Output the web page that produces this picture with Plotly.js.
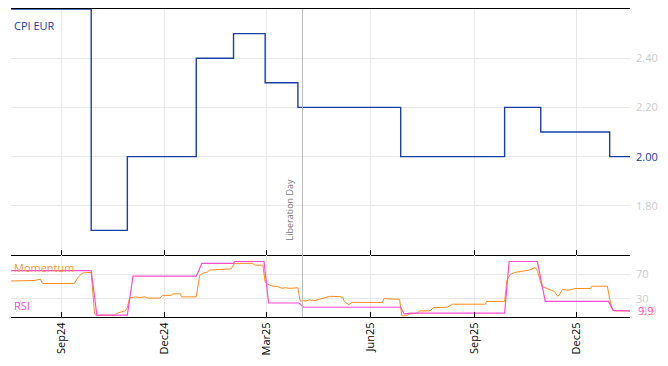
<!DOCTYPE html>
<html>
<head>
<meta charset="utf-8">
<script src="https://cdn.plot.ly/plotly-3.0.1.min.js"></script>
<style>html,body{margin:0;padding:0;background:#fff;}#chart{width:668px;height:366px;}</style>
</head>
<body>
<div id="chart"></div>
<script>
// ---- Data ----
const cpiDates = ['2024-07-18','2024-09-27','2024-10-29','2024-12-29','2025-01-31','2025-02-28','2025-03-29','2025-06-28','2025-09-28','2025-10-30','2025-12-30','2026-01-17'];
const cpiValues = [2.6, 1.7, 2.0, 2.4, 2.5, 2.3, 2.2, 2.0, 2.2, 2.1, 2.0, 2.0];

const rsiDates = ['2024-07-18','2024-09-27','2024-10-02','2024-10-29','2024-11-03','2024-12-29','2025-01-03','2025-01-31','2025-02-01','2025-02-27','2025-03-03','2025-03-30','2025-04-03','2025-06-28','2025-07-01','2025-07-07','2025-09-28','2025-10-02','2025-10-27','2025-11-03','2025-12-29','2026-01-02','2026-01-17'];
const rsiValues = [76, 76, 3, 3, 67, 67, 88, 88, 91, 91, 23, 23, 16, 16, 5, 6.5, 6.5, 91, 91, 25.5, 25.5, 11, 9.9];

const momDates = ['2024-07-18','2024-07-30','2024-08-08','2024-08-13','2024-08-15','2024-08-30','2024-09-12','2024-09-15','2024-09-19','2024-09-24','2024-09-27',
  '2024-09-30','2024-10-03','2024-10-06','2024-10-13','2024-10-18','2024-10-21','2024-10-27','2024-10-29','2024-10-31','2024-11-05','2024-11-09','2024-11-14','2024-11-16','2024-11-27','2024-11-29','2024-12-07','2024-12-08','2024-12-15','2024-12-16','2024-12-29',
  '2024-12-31','2025-01-01','2025-01-04','2025-01-08','2025-01-10','2025-01-14','2025-01-19','2025-01-23','2025-01-29','2025-02-01','2025-02-06','2025-02-10','2025-02-17','2025-02-19','2025-02-26',
  '2025-02-28','2025-03-02','2025-03-06','2025-03-11','2025-03-15','2025-03-18','2025-03-22','2025-03-26','2025-03-29',
  '2025-03-31','2025-04-02','2025-04-05','2025-04-08','2025-04-13','2025-04-17','2025-04-22','2025-04-26','2025-05-05','2025-05-08','2025-05-09','2025-05-13','2025-05-16','2025-05-23','2025-06-12','2025-06-13','2025-06-16','2025-06-18','2025-06-27',
  '2025-06-29','2025-07-03','2025-07-06','2025-07-12','2025-07-15','2025-07-24','2025-07-27','2025-08-08','2025-08-13','2025-09-11','2025-09-12','2025-09-28',
  '2025-09-30','2025-10-03','2025-10-07','2025-10-11','2025-10-16','2025-10-20','2025-10-25','2025-10-27',
  '2025-10-31','2025-11-03','2025-11-07','2025-11-11','2025-11-14','2025-11-16','2025-11-18','2025-11-24','2025-11-29','2025-12-13','2025-12-14','2025-12-28',
  '2025-12-30','2026-01-01','2026-01-03','2026-01-09','2026-01-17'];
const momValues = [59, 59, 60, 62, 55, 55, 55, 64, 72, 73, 73,
  5, 2, 3, 3.5, 3, 7, 10, 15, 31, 33, 32, 33, 31, 31, 35.5, 35.5, 38, 38, 33, 33,
  60, 68, 72, 74, 77, 77.5, 78, 79, 79, 88, 88, 88.5, 88, 85, 85,
  57, 54, 51, 50, 47, 48, 47, 48, 48,
  26, 27, 26, 28, 27, 29, 31, 33.8, 33.5, 32, 25.5, 20, 24, 23.8, 23.8, 30, 30, 29, 29,
  2, 2, 5, 6, 10, 10, 15.5, 16, 21, 21, 25.5, 25.5,
  60, 70, 73, 74, 76, 77, 81, 76,
  50, 47.8, 45, 42, 34, 38, 45, 44, 46.7, 46.7, 50.5, 50.5,
  30, 15, 10, 10.5, 10];

const tickDates = ['2024-09-01','2024-12-01','2025-03-01','2025-06-01','2025-09-01','2025-12-01'];
const xRange = ['2024-07-18','2026-01-17'];
const eventDate = '2025-04-02';
const eventLabel = 'Liberation Day';
const cpiLastLabel = '2.00';
const momLastLabel = '9.9';
const rsiLastLabel = '9.9';

// ---- Styles ----
const blue = '#1a40a8', orange = '#ff8c1a', pink = '#ff4dd2';
const grid = '#e8e8e8', tickGrey = '#cccccc';
const split = 0.2013;

const traces = [
  {x: cpiDates, y: cpiValues, type: 'scatter', mode: 'lines', line: {color: blue, width: 1.4, shape: 'hv'}, xaxis: 'x', yaxis: 'y', hoverinfo: 'skip'},
  {x: momDates, y: momValues, type: 'scatter', mode: 'lines', line: {color: orange, width: 1}, xaxis: 'x2', yaxis: 'y2', hoverinfo: 'skip'},
  {x: rsiDates, y: rsiValues, type: 'scatter', mode: 'lines', line: {color: pink, width: 1.2}, xaxis: 'x2', yaxis: 'y2', hoverinfo: 'skip'}
];

const xCommon = {
  type: 'date', range: xRange, tickvals: tickDates, tickformat: '%b%y',
  showgrid: true, gridcolor: grid, gridwidth: 1, zeroline: false,
  showline: true, linecolor: '#000', linewidth: 1,
  ticks: 'inside', ticklen: 5, tickcolor: '#000'
};

const layout = {
  width: 668, height: 366,
  margin: {l: 11, r: 38, t: 9, b: 49},
  paper_bgcolor: '#fff', plot_bgcolor: '#fff',
  showlegend: false,
  font: {family: '"Open Sans", sans-serif', size: 11, color: '#000'},
  xaxis: Object.assign({}, xCommon, {anchor: 'y', mirror: true, showticklabels: false}),
  xaxis2: Object.assign({}, xCommon, {anchor: 'y2', matches: 'x', mirror: false, showticklabels: true, tickangle: -90, tickfont: {size: 11, color: '#000'}}),
  yaxis: {domain: [split, 1], anchor: 'x', side: 'right', range: [1.6, 2.6], tickvals: [1.8, 2.0, 2.2, 2.4], tickformat: '.2f',
    showgrid: true, gridcolor: grid, zeroline: false, showline: false, ticks: '', ticklabelstandoff: 5, tickfont: {size: 11, color: tickGrey}},
  yaxis2: {domain: [0, split], anchor: 'x2', side: 'right', range: [0, 101.7], tickvals: [30, 70],
    showgrid: true, gridcolor: grid, zeroline: false, showline: false, ticks: '', ticklabelstandoff: 5, tickfont: {size: 11, color: tickGrey}},
  shapes: [
    {type: 'line', xref: 'x', yref: 'paper', x0: eventDate, x1: eventDate, y0: 0, y1: 1, line: {color: '#bbbbbb', width: 1}}
  ],
  annotations: [
    {text: 'CPI EUR', xref: 'paper', yref: 'paper', x: 0, y: 0.948, xanchor: 'left', yanchor: 'middle', xshift: 1, showarrow: false, font: {size: 11, color: blue}},
    {text: 'Momentum', xref: 'paper', yref: 'paper', x: 0, y: 0.162, xanchor: 'left', yanchor: 'middle', xshift: 1, showarrow: false, font: {size: 11, color: '#ff9933'}},
    {text: 'RSI', xref: 'paper', yref: 'paper', x: 0, y: 0.036, xanchor: 'left', yanchor: 'middle', xshift: 1, showarrow: false, font: {size: 11, color: pink}},
    {text: eventLabel, xref: 'x', yref: 'paper', x: eventDate, y: 0.347, xanchor: 'center', yanchor: 'middle', xshift: -13, textangle: -90, showarrow: false, font: {size: 9, color: '#777'}},
    {text: cpiLastLabel, xref: 'paper', yref: 'y', x: 1, y: cpiValues[cpiValues.length - 1], xanchor: 'left', yanchor: 'middle', xshift: 5, showarrow: false, bgcolor: '#fff', borderpad: 0, font: {size: 11, color: blue}},
    {text: momLastLabel, xref: 'paper', yref: 'y2', x: 1, y: momValues[momValues.length - 1], xanchor: 'left', yanchor: 'middle', xshift: 10, showarrow: false, bgcolor: '#fff', borderpad: 0, font: {size: 11, color: '#ffc690'}},
    {text: rsiLastLabel, xref: 'paper', yref: 'y2', x: 1, y: rsiValues[rsiValues.length - 1], xanchor: 'left', yanchor: 'middle', xshift: 6, showarrow: false, font: {size: 11, color: pink}}
  ]
};

Plotly.newPlot('chart', traces, layout, {staticPlot: true, displayModeBar: false});
</script>
</body>
</html>
